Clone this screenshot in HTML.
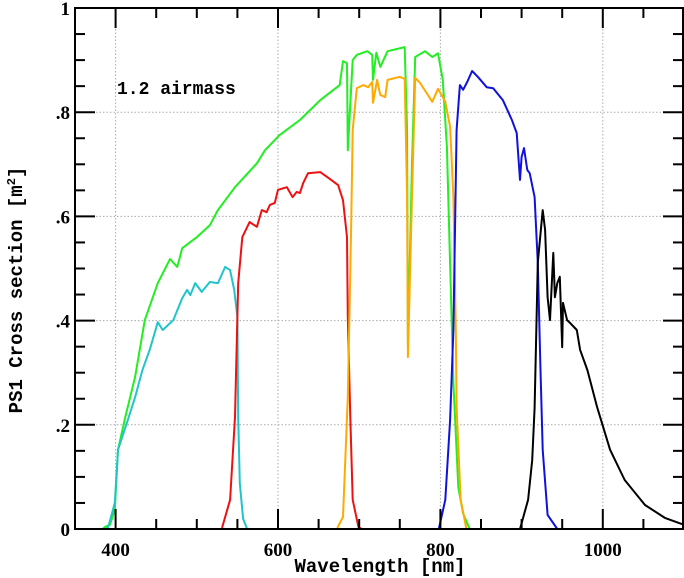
<!DOCTYPE html>
<html><head><meta charset="utf-8"><style>
body{margin:0;background:#fff;}
svg{display:block;}
text{font-family:"Liberation Serif",serif;font-weight:bold;fill:#000;}
.mono{font-family:"Liberation Mono",monospace;}
</style></head><body>
<svg id="chart" width="684" height="578" viewBox="0 0 684 578" xmlns="http://www.w3.org/2000/svg">
<g id="grid"></g>
<g id="series"></g>
<g id="axes"></g>
<text x="117" y="94" font-size="18" class="mono">1.2 airmass</text>
<text x="380" y="572" font-size="19" text-anchor="middle" class="mono">Wavelength [nm]</text>
<text transform="translate(22,290) rotate(-90)" font-size="19" text-anchor="middle" class="mono">PS1 Cross section [m<tspan dy="-7" font-size="12">2</tspan><tspan dy="7">]</tspan></text>
</svg>
<script>
const xTicks=[400,600,800,1000];
const yTicks=[0,0.2,0.4,0.6,0.8,1];
const yTickLabels=["0",".2",".4",".6",".8","1"];
const gWl=[384,387,393,399,403,412,424,436,452,467,476,482,500,516,526,547,574,584,602,627,652,676,680,685,686,692,697,710,716,717,721,726,735,756,759,760,765,769,781,790,797,803,808,812,816,822,828,836];
const gVal=[0,.004,.008,.036,.152,.215,.292,.401,.472,.518,.503,.539,.560,.583,.612,.656,.702,.727,.756,.785,.823,.852,.898,.894,.727,.900,.910,.917,.910,.862,.914,.887,.917,.925,.765,.353,.702,.906,.917,.906,.913,.862,.733,.509,.28,.08,.03,0];
const cWl=[388,391,399,403,415,424,433,442,452,458,471,482,488,492,498,506,516,526,535,541,546,550,551,553,557,562];
const cVal=[0,.004,.05,.152,.209,.253,.305,.344,.397,.382,.401,.443,.459,.449,.472,.455,.474,.472,.503,.497,.459,.407,.215,.088,.02,0];
const rWl=[531,541,547,551,556,565,574,580,586,590,596,600,611,618,623,627,631,637,652,662,674,680,685,686,689,692,699,703];
const rVal=[.002,.056,.215,.472,.560,.589,.580,.612,.608,.622,.626,.651,.656,.637,.647,.645,.664,.683,.685,.674,.660,.631,.560,.407,.215,.056,.004,0];
const iWl=[673,680,685,686,690,692,697,705,711,716,717,722,726,732,735,750,756,759,760,765,769,775,790,797,806,812,816,819,820,825,832];
const iVal=[.002,.023,.215,.253,.574,.766,.846,.852,.848,.858,.818,.862,.833,.829,.862,.868,.864,.637,.330,.637,.866,.856,.820,.845,.820,.772,.637,.382,.234,.056,0];
const zWl=[798,806,812,816,818,820,824,828,833,839,846,857,865,877,888,894,898,900,903,907,910,916,920,923,926,932,944];
const zVal=[0,.056,.209,.382,.574,.766,.852,.843,.858,.879,.868,.848,.846,.823,.785,.760,.670,.714,.731,.689,.683,.637,.511,.319,.152,.027,0];
const yWl=[898,908,913,916,920,926,929,932,935,939,941,944,947,950,951,956,960,968,972,981,993,1009,1027,1052,1077,1100];
const yVal=[0,.056,.132,.232,.511,.612,.574,.445,.401,.530,.445,.472,.484,.349,.434,.401,.395,.382,.344,.305,.234,.152,.094,.046,.021,.008];
const NS="http://www.w3.org/2000/svg";
const X0=75,X1=684,Y0=529,Y1=8,WMIN=350,WMAX=1100;
const xs=w=>X0+(w-WMIN)/(WMAX-WMIN)*(X1-X0);
const ys=v=>Y0-v*(Y0-Y1);
function mk(tag,attrs,parent){const e=document.createElementNS(NS,tag);for(const k in attrs)e.setAttribute(k,attrs[k]);parent.appendChild(e);return e;}
const grid=document.getElementById('grid'),axes=document.getElementById('axes'),ser=document.getElementById('series');
xTicks.forEach(t=>{const l=mk('line',{x1:xs(t),x2:xs(t),y1:Y1,y2:Y0,stroke:'#aaa','stroke-width':1,'stroke-dasharray':'1.5,2'},grid);

});
yTicks.slice(1,-1).forEach(t=>{const l=mk('line',{x1:X0,x2:X1,y1:ys(t),y2:ys(t),stroke:'#aaa','stroke-width':1,'stroke-dasharray':'1.5,2'},grid);

});
const series=[[gWl,gVal,'#22ee22','w-band'],[cWl,cVal,'#22c4cc','g-band'],[rWl,rVal,'#ee1111','r-band'],[iWl,iVal,'#ffaa00','i-band'],[zWl,zVal,'#1111dd','z-band'],[yWl,yVal,'#000','y-band']];
series.forEach(([w,v,c,n])=>{const d=w.map((a,i)=>(i?'L':'M')+xs(a).toFixed(1)+','+ys(v[i]).toFixed(1)).join('');
const p=mk('path',{d:d,fill:'none',stroke:c,'stroke-width':2,'stroke-linejoin':'round'},ser);

});
const fr=mk('rect',{x:X0,y:Y1,width:X1-X0-1,height:Y0-Y1,fill:'none',stroke:'#000','stroke-width':2},axes);


for(let w=WMIN+50;w<WMAX;w+=50){const L=(w%200===0)?20:10;
mk('line',{x1:xs(w),x2:xs(w),y1:Y0,y2:Y0-L,stroke:'#000','stroke-width':2},axes);
mk('line',{x1:xs(w),x2:xs(w),y1:Y1,y2:Y1+L,stroke:'#000','stroke-width':2},axes);}
for(let k=1;k<20;k++){const v=k*0.05,L=(k%4===0)?20:10;
mk('line',{x1:X0,x2:X0+L,y1:ys(v),y2:ys(v),stroke:'#000','stroke-width':2},axes);
mk('line',{x1:X1-1,x2:X1-1-L,y1:ys(v),y2:ys(v),stroke:'#000','stroke-width':2},axes);}
xTicks.forEach(t=>{const e=mk('text',{x:xs(t),y:556,'font-size':19,'text-anchor':'middle'},axes);e.textContent=String(t);

});
yTicks.forEach((t,i)=>{const e=mk('text',{x:70,y:ys(t)+7,'font-size':19,'text-anchor':'end'},axes);e.textContent=yTickLabels[i];

});
</script>
</body></html>
